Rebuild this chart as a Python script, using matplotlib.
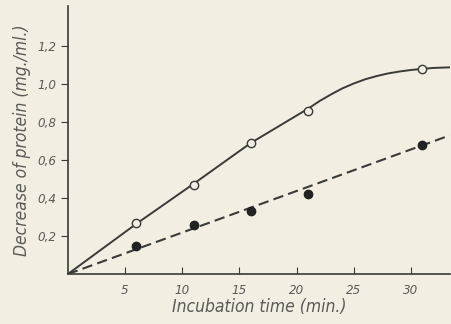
import matplotlib
matplotlib.use("Agg")
import matplotlib.pyplot as plt

# measured points
t_pts = [6, 11, 16, 21, 31]
open_pts = [0.27, 0.47, 0.69, 0.86, 1.08]
filled_pts = [0.15, 0.26, 0.33, 0.42, 0.68]

# hand drawn curves
solid_x = [0, 6, 11, 16, 21, 22, 23, 24, 25, 26, 27, 28, 29, 30, 31, 32, 33.4]
solid_y = [0, 0.265, 0.475, 0.69, 0.87, 0.91, 0.945, 0.977, 1.003, 1.025,
           1.042, 1.056, 1.066, 1.074, 1.08, 1.085, 1.088]
dash_x = [0, 33.4]
dash_y = [0, 0.73]

xticks = [5, 10, 15, 20, 25, 30]
yticks = [0.2, 0.4, 0.6, 0.8, 1.0, 1.2]
ytick_labels = ["0,2", "0,4", "0,6", "0,8", "1,0", "1,2"]

bg = "#f2eee2"
ink = "#3a3a36"
txt = "#5a5a55"
fam = "DejaVu Sans"
font = dict(family=fam, style="italic", stretch="condensed", color=txt)

fig = plt.figure(figsize=(4.52, 3.24), dpi=100, facecolor=bg)
ax = fig.add_axes([0.150, 0.154, 0.845, 0.827], facecolor=bg)

ax.plot(solid_x, solid_y, color=ink, lw=1.4)
ax.plot(dash_x, dash_y, color=ink, lw=1.5, ls=(0, (5, 2.5)))
ax.plot(t_pts, open_pts, "o", ms=6, mfc=bg, mec=ink, mew=1.0)
ax.plot(t_pts, filled_pts, "o", ms=6, mfc="#222222", mec="#222222")

ax.set_xlim(0, 33.4)
ax.set_ylim(0, 1.41)
for s in ["top", "right"]:
    ax.spines[s].set_visible(False)
for s in ["left", "bottom"]:
    ax.spines[s].set_color(ink)
    ax.spines[s].set_linewidth(1.2)

ax.set_xticks(xticks)
ax.set_xticklabels([str(v) for v in xticks], fontsize=9.5, **font)
ax.set_yticks(yticks)
ax.set_yticklabels(ytick_labels, fontsize=9.5, **font)
ax.tick_params(axis="x", direction="in", length=5, color=ink, pad=7)
ax.tick_params(axis="y", direction="out", length=5, color=ink, pad=3)

ax.set_xlabel("Incubation time (min.)", fontsize=12.5, labelpad=1, **font)
ax.set_ylabel("Decrease of protein (mg./ml.)", fontsize=12.5, labelpad=5, **font)

fig.savefig("out.png", dpi=100, facecolor=bg)
